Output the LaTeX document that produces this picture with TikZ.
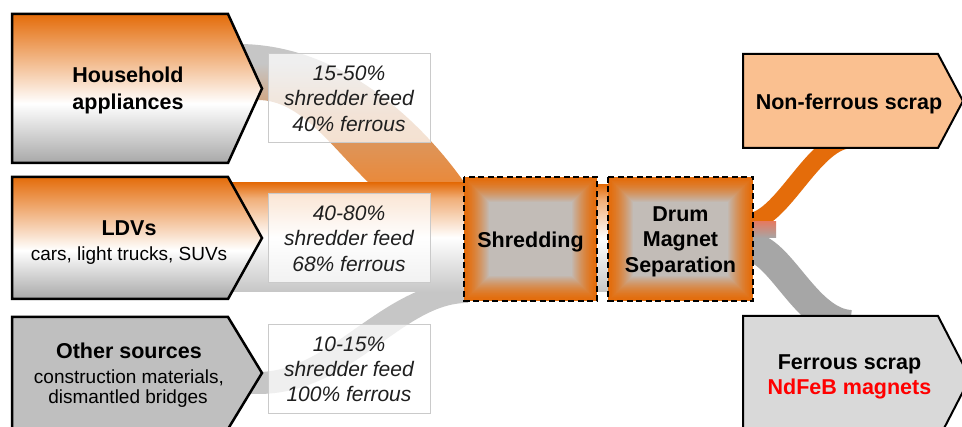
\documentclass[tikz,border=0pt]{standalone}
\usepackage{fontspec}
\setmainfont{Liberation Sans}
\definecolor{orng}{HTML}{E46C0A}
\definecolor{srcgray}{HTML}{A8A8A8}
\definecolor{bandgray}{HTML}{C6C6C6}
\definecolor{darkband}{HTML}{A6A6A6}
\definecolor{boxgray}{HTML}{C0C0C0}
\definecolor{nfcol}{HTML}{FAC090}
\definecolor{fcol}{HTML}{D9D9D9}
\definecolor{othercol}{HTML}{BFBFBF}
\definecolor{ndred}{HTML}{FF0000}
\definecolor{labelline}{HTML}{CACACA}
\definecolor{salmon}{RGB}{226,124,100}
\pgfdeclareverticalshading{srcshade}{100bp}{color(0bp)=(srcgray); color(25bp)=(srcgray); color(45bp)=(white); color(75bp)=(orng); color(100bp)=(orng)}
\pgfdeclareverticalshading{ldvshade}{100bp}{color(0bp)=(bandgray); color(25bp)=(bandgray); color(50bp)=(white); color(68bp)=(orng!55!white); color(75bp)=(orng); color(100bp)=(orng)}
\pgfdeclareverticalshading{hhshade}{100bp}{color(0bp)=(orng!80!white); color(25bp)=(orng!80!white); color(50bp)=(orng!45!bandgray); color(68bp)=(bandgray); color(75bp)=(bandgray); color(100bp)=(bandgray)}
\begin{document}
\begin{tikzpicture}[x=1pt,y=-1pt,
  every node/.style={inner sep=0pt, anchor=base},
  bigbold/.style={font=\fontsize{21.5}{25}\selectfont\bfseries},
  subtxt/.style={font=\fontsize{19}{21}\selectfont},
  pct/.style={font=\fontsize{21}{25}\selectfont\itshape, text=black!88},
  srcbox/.style={draw=black, line width=2.5pt, shading=srcshade},
  labelbox/.style={fill=white, fill opacity=0.72, draw=labelline, line width=1pt},
  dashbox/.style={draw=black, line width=2.5pt, dash pattern=on 6pt off 3.5pt},
  outbox/.style={draw=black, line width=2pt}]
\useasboundingbox (0,0) rectangle (962,427);
\fill[white] (0,0) rectangle (962,427);
% flows
\shade[shading=hhshade] (238,44) .. controls (340,44) and (420,120) .. (464,182) -- (368,182) .. controls (330,145) and (300,100) .. (258,100) -- (238,100) -- cycle;
\fill[bandgray] (258,372) .. controls (330,372) and (380,285) .. (464,280) -- (468,280) -- (468,303) -- (464,303) .. controls (400,306) and (350,394) .. (258,394) -- (240,394) -- (240,372) -- cycle;
\shade[shading=ldvshade] (225,183) rectangle (468,292);
\shade[shading=ldvshade] (595,185) rectangle (610,292);
\draw[line width=18pt, orng] (748,222) .. controls (780,222) and (810,148) .. (845,140);
\draw[line width=30pt, darkband] (748,247) .. controls (780,247) and (805,322) .. (850,325);
\shade[top color=salmon, bottom color=darkband] (753,222) rectangle (776,238);
% label boxes
\path[labelbox] (268,54) rectangle (430,143);
\path[labelbox] (268,194) rectangle (430,283);
\path[labelbox] (268,325) rectangle (430,414);
% source arrows
\shadedraw[srcbox] (12,14) -- (228,14) -- (262,88.5) -- (228,163) -- (12,163) -- cycle;
\shadedraw[srcbox] (12,177) -- (228,177) -- (262,238) -- (228,299) -- (12,299) -- cycle;
\filldraw[fill=othercol, draw=black, line width=2.5pt] (12,317) -- (228,317) -- (262,373) -- (228,429) -- (12,429) -- cycle;
% process boxes
\foreach \i [evaluate=\i as \p using {int(100-100*(\i/26)^1.5)}] in {0,...,25} {
  \fill[orng!\p!boxgray] (464+\i,177+\i) rectangle (597-\i,301-\i);
  \fill[orng!\p!boxgray] (608+\i,177+\i) rectangle (753-\i,301-\i);
}
\draw[dashbox] (464,177) rectangle (597,301);
\draw[dashbox] (608,177) rectangle (753,301);
% output boxes
\filldraw[fill=nfcol, outbox] (743,54) -- (938,54) -- (963,101) -- (938,148) -- (743,148) -- cycle;
\filldraw[fill=fcol, outbox] (743,316) -- (938,316) -- (970,378) -- (938,440) -- (743,440) -- cycle;
% texts
\node[bigbold] (hh1) at (128,83) {Household};
\node[bigbold] (hh2) at (128,110) {appliances};
\node[bigbold] (ldv1) at (129,236) {LDVs};
\node[subtxt] (ldv2) at (129,261) {cars, light trucks, SUVs};
\node[bigbold] (oth1) at (129,359) {Other sources};
\node[subtxt] (oth2) at (129,384) {construction materials,};
\node[subtxt] (oth3) at (128,404) {dismantled bridges};
\node[pct] (hhA) at (349,81) {15-50\%};
\node[pct] (hhB) at (349,106) {shredder feed};
\node[pct] (hhC) at (349,132) {40\% ferrous};
\node[pct] (ldvA) at (349,221) {40-80\%};
\node[pct] (ldvB) at (349,246) {shredder feed};
\node[pct] (ldvC) at (349,272) {68\% ferrous};
\node[pct] (othA) at (349,352) {10-15\%};
\node[pct] (othB) at (349,377) {shredder feed};
\node[pct] (othC) at (349,402) {100\% ferrous};
\node[bigbold] (shred) at (530.5,248) {Shredding};
\node[bigbold] (drum1) at (680.5,222) {Drum};
\node[bigbold] (drum2) at (680.5,247) {Magnet};
\node[bigbold] (drum3) at (680.5,273) {Separation};
\node[bigbold] (nonf) at (849,110) {Non-ferrous scrap};
\node[bigbold] (ferr1) at (849.5,370) {Ferrous scrap};
\node[bigbold, text=ndred] (ferr2) at (849.5,395) {NdFeB magnets};
\end{tikzpicture}
\end{document}
